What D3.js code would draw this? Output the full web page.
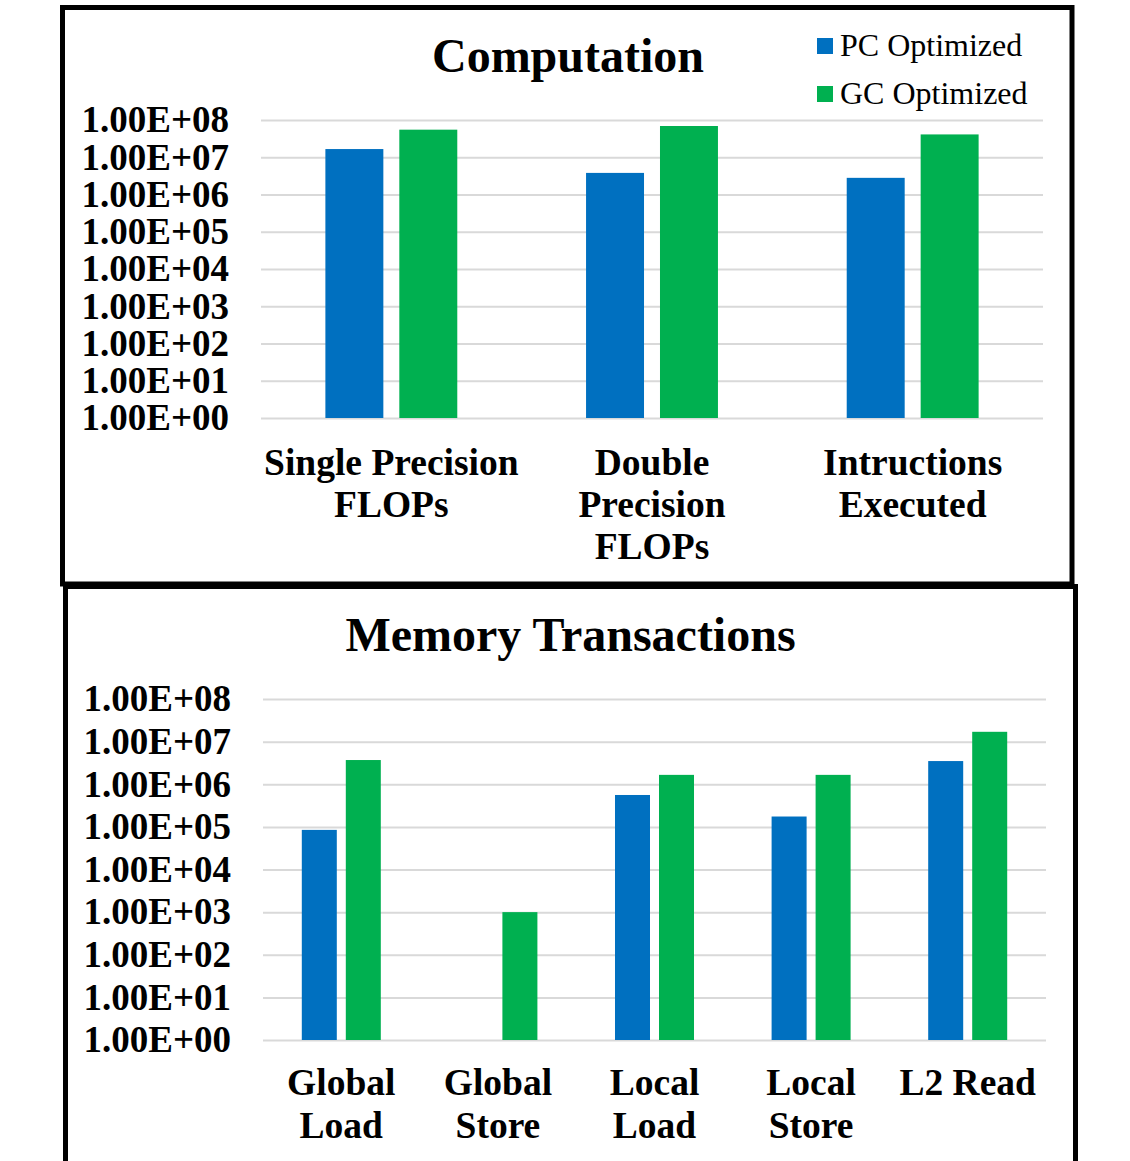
<!DOCTYPE html>
<html>
<head>
<meta charset="utf-8">
<script src="https://cdn.jsdelivr.net/npm/d3@7"></script>
<style>
  html, body { margin: 0; padding: 0; background: #fff; }
  svg { display: block; }
  text { font-family: "Liberation Serif", "Times New Roman", serif; fill: #000; }
</style>
</head>
<body>
<svg id="chart" width="1130" height="1161"></svg>
<script>
// Series shared by both panels
const seriesNames = ["PC Optimized", "GC Optimized"];
const seriesColors = ["#0070C0", "#00B050"];

// Log-axis ticks (powers of ten) and their labels
const tickValues = [1, 1e1, 1e2, 1e3, 1e4, 1e5, 1e6, 1e7, 1e8];
const tickLabels = ["1.00E+00", "1.00E+01", "1.00E+02", "1.00E+03", "1.00E+04",
                    "1.00E+05", "1.00E+06", "1.00E+07", "1.00E+08"];

// Computation panel
const compCategories = ["Single Precision\nFLOPs", "Double\nPrecision\nFLOPs", "Intructions\nExecuted"];
const compPC = [1.66e7, 3.8e6, 2.8e6];
const compGC = [5.5e7, 6.9e7, 4.1e7];

// Memory Transactions panel (0 = no transactions, not drawn on the log axis)
const memCategories = ["Global\nLoad", "Global\nStore", "Local\nLoad", "Local\nStore", "L2 Read"];
const memPC = [8.5e4, 0, 5.6e5, 1.75e5, 3.5e6];
const memGC = [3.7e6, 1.0e3, 1.66e6, 1.66e6, 1.7e7];

const svg = d3.select("#chart");

// Panel frames
svg.append("rect").attr("x", 62.5).attr("y", 7.5).attr("width", 1009.5).attr("height", 576.5)
  .attr("fill", "none").attr("stroke", "#000").attr("stroke-width", 5);
svg.append("rect").attr("x", 65.5).attr("y", 586.5).attr("width", 1010).attr("height", 640)
  .attr("fill", "none").attr("stroke", "#000").attr("stroke-width", 5);

function drawPanel(opts) {
  const g = svg.append("g");
  const y = d3.scaleLog().domain([1, 1e8]).range([opts.bottom, opts.top]);
  const x0 = d3.scaleBand().domain(opts.categories).range([opts.left, opts.right])
    .paddingInner(opts.groupPad).paddingOuter(opts.groupPad / 2);
  const x1 = d3.scaleBand().domain(seriesNames).range([0, x0.bandwidth()])
    .paddingInner(opts.barPad);

  // Gridlines + tick labels
  const axis = d3.axisLeft(y).tickValues(tickValues)
    .tickFormat((d, i) => tickLabels[i])
    .tickSize(-(opts.right - opts.left)).tickPadding(opts.labelGap);
  const ag = g.append("g").attr("transform", `translate(${opts.left},0)`).call(axis);
  ag.select(".domain").remove();
  ag.selectAll(".tick line").attr("stroke", "#d9d9d9").attr("stroke-width", 2);
  ag.selectAll(".tick text").attr("font-size", opts.tickSize).attr("font-weight", "bold")
    .attr("font-family", "Liberation Serif").attr("fill", "#000");

  // Bars
  const rows = opts.categories.map((c, i) => ({ c, vals: [opts.pc[i], opts.gc[i]] }));
  const grp = g.selectAll("g.cat").data(rows).join("g").attr("class", "cat")
    .attr("transform", d => `translate(${x0(d.c)},0)`);
  grp.selectAll("rect")
    .data(d => d.vals.map((v, k) => ({ v, k })).filter(e => e.v > 0))
    .join("rect")
    .attr("x", e => x1(seriesNames[e.k]))
    .attr("width", x1.bandwidth())
    .attr("y", e => y(e.v))
    .attr("height", e => y(1) - y(e.v))
    .attr("fill", e => seriesColors[e.k]);

  // Category labels (multi-line)
  g.selectAll("text.cat").data(opts.categories).join("text").attr("class", "cat")
    .attr("text-anchor", "middle").attr("font-weight", "bold")
    .attr("font-size", opts.catSize)
    .attr("transform", d => `translate(${x0(d) + x0.bandwidth() / 2},${opts.catY})`)
    .selectAll("tspan").data(d => d.split("\n")).join("tspan")
    .attr("x", 0).attr("dy", (d, i) => i === 0 ? 0 : opts.catLine).text(d => d);

  // Title
  g.append("text").attr("x", opts.titleX).attr("y", opts.titleY)
    .attr("text-anchor", "middle").attr("font-weight", "bold")
    .attr("font-size", opts.titleSize).text(opts.title);
}

drawPanel({
  title: "Computation", titleX: 568, titleY: 72, titleSize: 48,
  categories: compCategories, pc: compPC, gc: compGC,
  left: 261, right: 1043, top: 120, bottom: 418,
  groupPad: 0.494, barPad: 0.216,
  tickSize: 37, labelGap: 32, catSize: 37.5, catY: 475, catLine: 42
});

drawPanel({
  title: "Memory Transactions", titleX: 570.5, titleY: 651, titleSize: 48,
  categories: memCategories, pc: memPC, gc: memGC,
  left: 263, right: 1046, top: 699, bottom: 1040,
  groupPad: 0.4955, barPad: 0.2045,
  tickSize: 37, labelGap: 32, catSize: 37.5, catY: 1095, catLine: 43
});

// Legend
const legend = svg.append("g").selectAll("g").data(seriesNames).join("g")
  .attr("transform", (d, i) => `translate(817,${38 + i * 48})`);
legend.append("rect").attr("width", 16).attr("height", 16)
  .attr("fill", (d, i) => seriesColors[i]);
legend.append("text").attr("x", 23).attr("y", 18)
  .attr("font-size", 32).text(d => d);
</script>
</body>
</html>
